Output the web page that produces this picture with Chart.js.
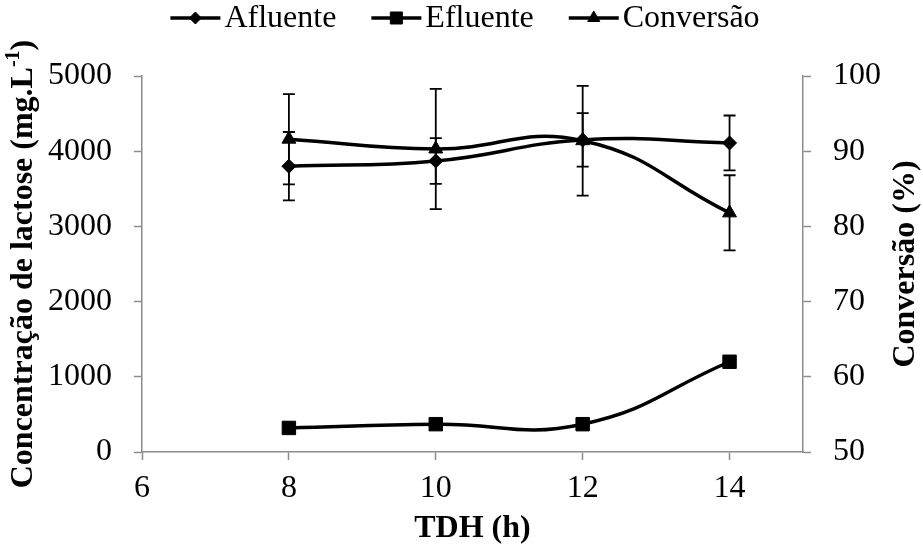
<!DOCTYPE html>
<html>
<head>
<meta charset="utf-8">
<title>Lactose x TDH</title>
<script src="https://cdn.jsdelivr.net/npm/chart.js@4.4.1/dist/chart.umd.min.js"></script>
<style>
  html, body { margin: 0; padding: 0; background: #fff; }
</style>
</head>
<body>
<canvas id="grafico" width="923" height="551"></canvas>
<script>
// TDH (h) e valores medidos
const tdh = [8, 10, 12, 14];
const afluente = [3800, 3870, 4150, 4110];
const afluenteErro = [455, 305, 355, 365];
const efluente = [320, 370, 370, 1200];
const efluenteErro = [20, 20, 20, 60];
const conversao = [91.6, 90.3, 91.4, 81.8];
const conversaoErro = [6.0, 8.0, 7.3, 5.0];

const ticksX = [6, 8, 10, 12, 14];
const ticksY = [0, 1000, 2000, 3000, 4000, 5000];
const ticksY1 = [50, 60, 70, 80, 90, 100];

const FONTE = '"Liberation Serif", "Times New Roman", serif';
const TAM = 32;
const CINZA = '#8c8c8c';

const pontos = (ys) => tdh.map((x, i) => ({ x: x, y: ys[i] }));

const series = [
  { label: 'Afluente', data: pontos(afluente), erro: afluenteErro, yAxisID: 'y', pointStyle: 'rectRot', pointRadius: 7, legRadius: 6 },
  { label: 'Efluente', data: pontos(efluente), erro: efluenteErro, yAxisID: 'y', pointStyle: 'rect', pointRadius: 9.5, legRadius: 8.5 },
  { label: 'Conversão', data: pontos(conversao), erro: conversaoErro, yAxisID: 'y1', pointStyle: 'triangle', pointRadius: 8, legRadius: 7 }
].map(s => Object.assign({
  xAxisID: 'x',
  borderColor: '#000',
  backgroundColor: '#000',
  pointBackgroundColor: '#000',
  pointBorderColor: '#000',
  pointBorderWidth: 1,
  borderWidth: 3.5,
  tension: 0.45,
  showLine: true,
  fill: false
}, s));

// barras de erro (desvio padrão)
const barrasErro = {
  id: 'barrasErro',
  afterDatasetsDraw(chart) {
    const ctx = chart.ctx;
    chart.data.datasets.forEach((ds) => {
      const sx = chart.scales[ds.xAxisID];
      const sy = chart.scales[ds.yAxisID];
      ctx.save();
      ctx.strokeStyle = '#000';
      ctx.lineWidth = 1.8;
      ds.data.forEach((p, j) => {
        const e = ds.erro[j];
        const x = sx.getPixelForValue(p.x);
        const yA = sy.getPixelForValue(p.y - e);
        const yB = sy.getPixelForValue(p.y + e);
        ctx.beginPath();
        ctx.moveTo(x, yA); ctx.lineTo(x, yB);
        ctx.moveTo(x - 6, yA); ctx.lineTo(x + 6, yA);
        ctx.moveTo(x - 6, yB); ctx.lineTo(x + 6, yB);
        ctx.stroke();
      });
      ctx.restore();
    });
  }
};

// legenda e títulos dos eixos
const textos = {
  id: 'textos',
  afterDraw(chart) {
    const ctx = chart.ctx;
    const area = chart.chartArea;
    ctx.save();
    ctx.fillStyle = '#000';
    ctx.strokeStyle = '#000';

    // legenda
    ctx.font = TAM + 'px ' + FONTE;
    ctx.textBaseline = 'middle';
    ctx.textAlign = 'left';
    const linha = 50, gap = 4, entre = 35;
    const larguras = chart.data.datasets.map(ds => linha + gap + ctx.measureText(ds.label).width);
    const total = larguras.reduce((a, b) => a + b, 0) + entre * (larguras.length - 1);
    let x = 465 - total / 2;
    const yl = 18;
    chart.data.datasets.forEach((ds, i) => {
      ctx.lineWidth = 3.5;
      ctx.beginPath();
      ctx.moveTo(x, yl); ctx.lineTo(x + linha, yl);
      ctx.stroke();
      ctx.lineWidth = 1;
      Chart.helpers.drawPoint(ctx, { pointStyle: ds.pointStyle, radius: ds.legRadius, rotation: 0, borderWidth: 1 }, x + linha / 2, yl);
      ctx.fillText(ds.label, x + linha + gap, yl + 1);
      x += larguras[i] + entre;
    });

    const meioY = (area.top + area.bottom) / 2;

    // eixo y esquerdo, com expoente
    const base = 'Concentração de lactose (mg.L';
    const sup = '-1';
    const fim = ')';
    ctx.font = 'bold ' + TAM + 'px ' + FONTE;
    const w1 = ctx.measureText(base).width;
    const w3 = ctx.measureText(fim).width;
    ctx.font = 'bold 20px ' + FONTE;
    const w2 = ctx.measureText(sup).width;
    ctx.save();
    ctx.translate(24, meioY);
    ctx.rotate(-Math.PI / 2);
    let t = -(w1 + w2 + w3) / 2;
    ctx.font = 'bold ' + TAM + 'px ' + FONTE;
    ctx.fillText(base, t, 0);
    t += w1;
    ctx.font = 'bold 20px ' + FONTE;
    ctx.fillText(sup, t, -10);
    t += w2;
    ctx.font = 'bold ' + TAM + 'px ' + FONTE;
    ctx.fillText(fim, t, 0);
    ctx.restore();

    // eixo y direito
    ctx.save();
    ctx.font = 'bold ' + TAM + 'px ' + FONTE;
    ctx.textAlign = 'center';
    ctx.translate(906, meioY);
    ctx.rotate(-Math.PI / 2);
    ctx.fillText('Conversão (%)', 0, 0);
    ctx.restore();

    // eixo x
    ctx.font = 'bold ' + TAM + 'px ' + FONTE;
    ctx.textAlign = 'center';
    ctx.fillText('TDH (h)', (area.left + area.right) / 2, 529);

    ctx.restore();
  }
};

const eixo = (extra) => Object.assign({
  border: { color: CINZA, width: 1.5 },
  grid: { drawOnChartArea: false, drawTicks: true, tickLength: 8, color: CINZA, tickWidth: 1.5 },
}, extra);

const rotulo = (v) => String(v);

new Chart(document.getElementById('grafico').getContext('2d'), {
  type: 'scatter',
  data: { datasets: series },
  options: {
    responsive: false,
    animation: false,
    layout: { padding: { top: 76 } },
    plugins: { legend: { display: false }, tooltip: { enabled: false } },
    scales: {
      x: eixo({
        type: 'linear',
        position: 'bottom',
        min: 6,
        max: 15,
        afterBuildTicks: (s) => { s.ticks = ticksX.map(v => ({ value: v })); },
        afterFit: (s) => { s.height = 99; },
        ticks: { color: '#000', padding: 9, font: { family: FONTE, size: TAM }, maxRotation: 0, callback: rotulo }
      }),
      y: eixo({
        type: 'linear',
        position: 'left',
        min: 0,
        max: 5000,
        afterBuildTicks: (s) => { s.ticks = ticksY.map(v => ({ value: v })); },
        afterFit: (s) => { s.width = 142; },
        ticks: { color: '#000', padding: 22, font: { family: FONTE, size: TAM }, callback: rotulo }
      }),
      y1: eixo({
        type: 'linear',
        position: 'right',
        min: 50,
        max: 100,
        afterBuildTicks: (s) => { s.ticks = ticksY1.map(v => ({ value: v })); },
        afterFit: (s) => { s.width = 120; },
        ticks: { color: '#000', padding: 22, font: { family: FONTE, size: TAM }, callback: rotulo }
      })
    }
  },
  plugins: [barrasErro, textos]
});
</script>
</body>
</html>
